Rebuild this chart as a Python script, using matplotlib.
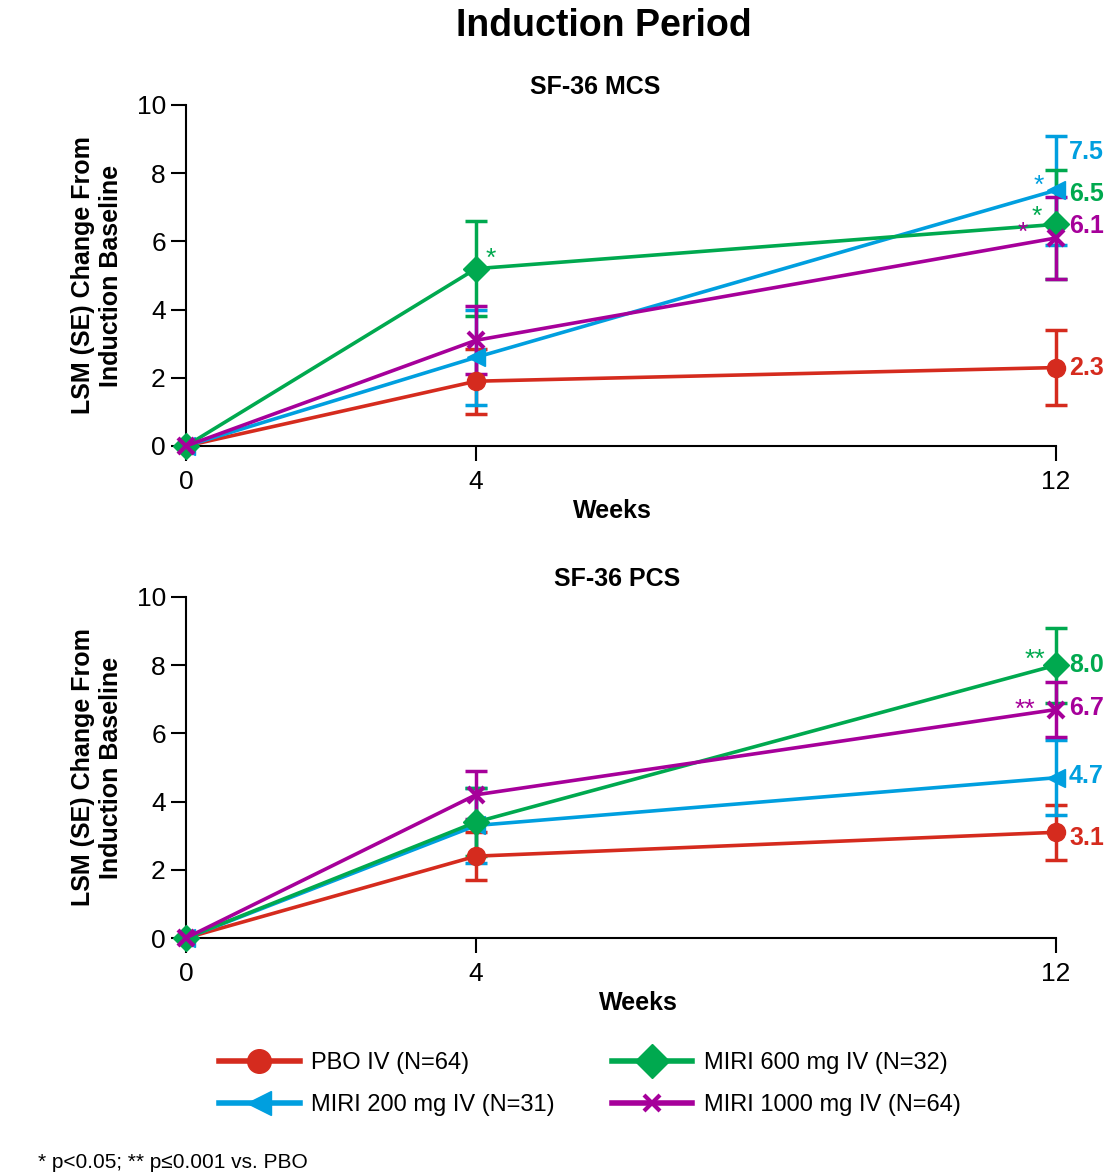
import matplotlib
matplotlib.use("Agg")
import matplotlib.pyplot as plt
from matplotlib.lines import Line2D

plt.rcParams['font.family'] = ['Liberation Sans', 'DejaVu Sans']

weeks = [0, 4, 12]
groups = ['PBO IV (N=64)', 'MIRI 200 mg IV (N=31)', 'MIRI 600 mg IV (N=32)', 'MIRI 1000 mg IV (N=64)']
colors = ['#D52B1E', '#009FDF', '#00A94F', '#A6009A']
markers = ['o', '<', 'D', 'x']

# SF-36 MCS
mcs_mean = [[0, 1.9, 2.3], [0, 2.6, 7.5], [0, 5.2, 6.5], [0, 3.1, 6.1]]
mcs_se = [[0, 0.95, 1.1], [0, 1.4, 1.6], [0, 1.4, 1.6], [0, 1.0, 1.2]]
mcs_sig = [['', '', ''], ['', '', '*'], ['', '*', '*'], ['', '', '*']]

# SF-36 PCS
pcs_mean = [[0, 2.4, 3.1], [0, 3.3, 4.7], [0, 3.4, 8.0], [0, 4.2, 6.7]]
pcs_se = [[0, 0.7, 0.8], [0, 1.1, 1.1], [0, 1.0, 1.1], [0, 0.7, 0.8]]
pcs_sig = [['', '', ''], ['', '', ''], ['', '', '**'], ['', '', '**']]

end_labels_mcs = ['2.3', '7.5', '6.5', '6.1']
end_labels_pcs = ['3.1', '4.7', '8.0', '6.7']

# label nudges (pixels) so end labels don't collide
lab_dy_mcs = [0, 38, 30, 12]
lab_dy_pcs = [-6, 2, 0, 2]

# offsets (pixels) of significance marks relative to point
sig_off_mcs = {(2, 1): (15, 10), (1, 2): (-17, 4), (2, 2): (-19, 7), (3, 2): (-33, 5)}
sig_off_pcs = {(2, 2): (-21, 5), (3, 2): (-31, 0)}

order = [3, 2, 1, 0]

fig = plt.figure(figsize=(11.05, 11.76), dpi=100)
ax1 = fig.add_axes([186 / 1105, 1 - 446 / 1176, 870 / 1105, 341 / 1176])
ax2 = fig.add_axes([186 / 1105, 1 - 938 / 1176, 870 / 1105, 341 / 1176])

fig.text(604 / 1105, 1 - 26 / 1176, 'Induction Period', ha='center', va='center',
         fontsize=27, fontweight='bold')


def draw(ax, means, ses, sigs, ends, lab_dy, sig_off, title, title_x):
    for i in order:
        ax.errorbar(weeks[1:], means[i][1:], yerr=ses[i][1:], fmt='none',
                    ecolor=colors[i], elinewidth=2.5, capsize=8, capthick=2.5,
                    zorder=3 + i * 0.1, clip_on=False)
        ax.plot(weeks, means[i], color=colors[i], lw=2.6, marker=markers[i],
                ms=13 if markers[i] != 'x' else 12, mew=3 if markers[i] == 'x' else 1,
                zorder=4 + i * 0.1, clip_on=False)
        ax.annotate(ends[i], (12, means[i][2]), xytext=(13, lab_dy[i]), textcoords='offset pixels',
                    color=colors[i], fontsize=18, fontweight='bold', va='center', ha='left',
                    annotation_clip=False)
        for j in range(3):
            if sigs[i][j]:
                dx, dy = sig_off[(i, j)]
                ax.annotate(sigs[i][j], (weeks[j], means[i][j]), xytext=(dx, dy),
                            textcoords='offset pixels', color=colors[i], fontsize=19,
                            ha='center', va='center', annotation_clip=False, zorder=6)
    ax.set_xlim(0, 12)
    ax.set_ylim(0, 10)
    ax.set_xticks(weeks)
    ax.set_yticks([0, 2, 4, 6, 8, 10])
    ax.tick_params(labelsize=19, width=1.5, length=11, direction='out')
    ax.tick_params(axis='x', pad=6)
    ax.spines['top'].set_visible(False)
    ax.spines['right'].set_visible(False)
    ax.spines['left'].set_linewidth(1.5)
    ax.spines['bottom'].set_linewidth(1.5)
    ax.set_xlabel('Weeks', fontsize=18, fontweight='bold', labelpad=4)
    ax.set_ylabel('LSM (SE) Change From\nInduction Baseline', fontsize=18,
                  fontweight='bold', labelpad=10, linespacing=1.2)
    ax.set_title(title, fontsize=18, fontweight='bold', x=title_x, pad=8)


draw(ax1, mcs_mean, mcs_se, mcs_sig, end_labels_mcs, lab_dy_mcs, sig_off_mcs, 'SF-36 MCS', (595 - 186) / 870)
draw(ax2, pcs_mean, pcs_se, pcs_sig, end_labels_pcs, lab_dy_pcs, sig_off_pcs, 'SF-36 PCS', (617 - 186) / 870)
ax2.xaxis.label.set_x((638 - 186) / 870)
ax1.xaxis.label.set_x((612 - 186) / 870)

handles = [Line2D([], [], color=colors[i], lw=4, marker=markers[i],
                  ms=17 if markers[i] != 'x' else 12, mew=3 if markers[i] == 'x' else 1)
           for i in range(4)]
fig.legend(handles, groups, ncol=2, loc='upper left',
           bbox_to_anchor=(198 / 1105, 1 - 1031 / 1176), frameon=False,
           prop={'size': 17},
           handlelength=3.4, handletextpad=0.5, columnspacing=2.4, labelspacing=0.85)

fig.text(38 / 1105, 1 - 1163 / 1176, '* p<0.05; ** p≤0.001 vs. PBO', ha='left', va='center',
         fontsize=15)

fig.savefig('out.png', dpi=100)
